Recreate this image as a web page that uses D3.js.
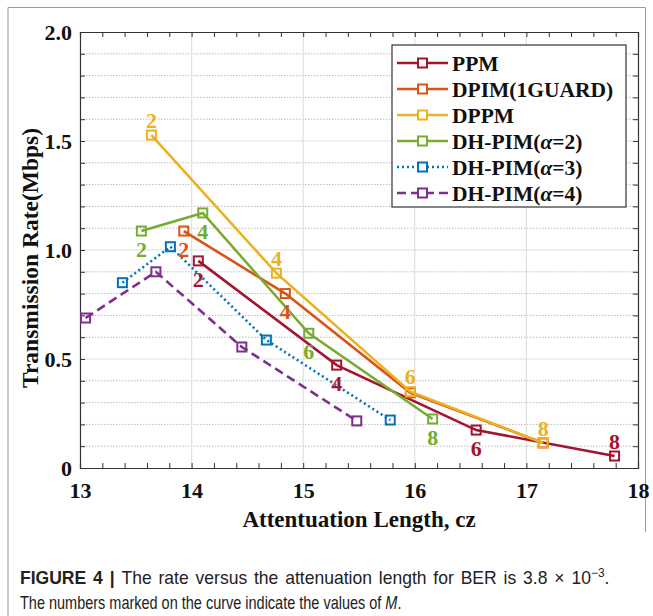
<!DOCTYPE html>
<html><head><meta charset="utf-8">
<script src="https://cdn.jsdelivr.net/npm/d3@7"></script>
<style>body{margin:0;background:#fff;}svg{display:block;}</style>
</head><body>
<svg id="chart" width="653" height="616"></svg>
<script>
// ---- data ----
const seriesNames = ["PPM", "DPIM(1GUARD)", "DPPM", "DH-PIM(\u03b1=2)", "DH-PIM(\u03b1=3)", "DH-PIM(\u03b1=4)"];
const ppmX  = [14.06, 15.30, 16.55, 17.79];
const ppmY  = [0.95, 0.472, 0.174, 0.055];
const dpimX = [13.93, 14.84, 15.96, 17.15];
const dpimY = [1.087, 0.80, 0.345, 0.115];
const dppmX = [13.64, 14.76, 15.96, 17.15];
const dppmY = [1.527, 0.894, 0.35, 0.115];
const dh2X  = [13.55, 14.10, 15.05, 16.16];
const dh2Y  = [1.087, 1.17, 0.618, 0.225];
const dh3X  = [13.38, 13.81, 14.67, 15.78];
const dh3Y  = [0.85, 1.015, 0.587, 0.22];
const dh4X  = [13.05, 13.68, 14.45, 15.48];
const dh4Y  = [0.688, 0.90, 0.555, 0.216];
const mValues = [2, 4, 6, 8];
const xTicks = [13, 14, 15, 16, 17, 18];
const yTicks = [0, 0.5, 1.0, 1.5, 2.0];
const yTickLabels = ["0", "0.5", "1.0", "1.5", "2.0"];

// ---- style ----
const colors = ["#A2142F", "#D95319", "#EDB120", "#77AC30", "#0072BD", "#7E2F8E"];
const dashes = [null, null, null, null, "2,3", "9,5"];
// which M labels are shown per series: "a" above, "b" below, null none
const labelPos = [
  ["b", "b", "b", "a"],
  ["b", "b", null, null],
  ["a", "a", "a", "a"],
  ["b", "b", "b", "b"],
  [null, null, null, null],
  [null, null, null, null]
];
const xsAll = [ppmX, dpimX, dppmX, dh2X, dh3X, dh4X];
const ysAll = [ppmY, dpimY, dppmY, dh2Y, dh3Y, dh4Y];
const series = seriesNames.map((n, i) => ({
  name: n, color: colors[i], dash: dashes[i],
  pts: xsAll[i].map((x, j) => ({x, y: ysAll[i][j], m: mValues[j], lp: labelPos[i][j]}))
}));

const svg = d3.select("#chart");
const L = 80, R = 638, T = 32, B = 468;
const x = d3.scaleLinear().domain([13, 18]).range([L, R]);
const y = d3.scaleLinear().domain([0, 2]).range([B, T]);
const serif = "'Liberation Serif','Times New Roman',serif";

// outer frame
svg.append("path").attr("d", "M8,616 L8,7.5 L645.5,7.5 L645.5,532")
  .attr("fill", "none").attr("stroke", "#9a9a9a").attr("stroke-width", 1);

const g = svg.append("g");
g.selectAll(".hmin").data(d3.range(1, 20).map(d => d / 10).filter(v => Math.abs(v * 2 - Math.round(v * 2)) > 1e-6))
  .join("line").attr("x1", L).attr("x2", R).attr("y1", d => y(d)).attr("y2", d => y(d))
  .attr("stroke", "#bdbdbd").attr("stroke-width", 1).attr("stroke-dasharray", "1.5,1.5");
g.selectAll(".hmaj").data([0.5, 1.0, 1.5]).join("line")
  .attr("x1", L).attr("x2", R).attr("y1", d => y(d)).attr("y2", d => y(d))
  .attr("stroke", "#e0e0e0").attr("stroke-width", 1.2);
g.selectAll(".vmaj").data([14, 15, 16, 17]).join("line")
  .attr("y1", T).attr("y2", B).attr("x1", d => x(d)).attr("x2", d => x(d))
  .attr("stroke", "#e0e0e0").attr("stroke-width", 1.2);

// axes with inward ticks
const xMinor = d3.range(13, 18.001, 0.2);
const yMinor = d3.range(0, 2.001, 0.1);
const axB = d3.axisBottom(x).tickValues(xMinor).tickSize(-5).tickFormat("");
const axT = d3.axisTop(x).tickValues(xMinor).tickSize(-5).tickFormat("");
const axL = d3.axisLeft(y).tickValues(yMinor).tickSize(-5).tickFormat("");
const axR = d3.axisRight(y).tickValues(yMinor).tickSize(-5).tickFormat("");
[[axB, `translate(0,${B})`], [axT, `translate(0,${T})`], [axL, `translate(${L},0)`], [axR, `translate(${R},0)`]]
  .forEach(([ax, tr]) => {
    const a = svg.append("g").attr("transform", tr).call(ax);
    a.selectAll("path").attr("stroke", "#333").attr("stroke-width", 1.2);
    a.selectAll("line").attr("stroke", "#333").attr("stroke-width", 1);
  });

// tick labels
svg.append("g").attr("transform", `translate(0,${B})`)
  .call(d3.axisBottom(x).tickValues(xTicks).tickSize(0).tickPadding(14).tickFormat(d3.format("d")))
  .call(a => a.select(".domain").remove())
  .selectAll("text").attr("font-family", serif).attr("font-weight", "bold")
  .attr("font-size", 22).attr("fill", "#111");
svg.append("g").attr("transform", `translate(${L},0)`)
  .call(d3.axisLeft(y).tickValues(yTicks).tickSize(0).tickPadding(8).tickFormat((d, i) => yTickLabels[i]))
  .call(a => a.select(".domain").remove())
  .selectAll("text").attr("font-family", serif).attr("font-weight", "bold")
  .attr("font-size", 22).attr("fill", "#111");

// axis titles
svg.append("text").attr("x", (L + R) / 2).attr("y", 527).attr("text-anchor", "middle")
  .attr("font-family", serif).attr("font-weight", "bold").attr("font-size", 23).attr("fill", "#111")
  .text("Attentuation Length, cz");
svg.append("text").attr("transform", `translate(38,${(T + B) / 2 + 8}) rotate(-90)`).attr("text-anchor", "middle")
  .attr("font-family", serif).attr("font-weight", "bold").attr("font-size", 23.5).attr("fill", "#111")
  .text("Transmission Rate(Mbps)");

// lines & markers
const line = d3.line().x(d => x(d.x)).y(d => y(d.y));
const sg = svg.append("g");
series.forEach(s => {
  sg.append("path").datum(s.pts).attr("d", line).attr("fill", "none")
    .attr("stroke", s.color).attr("stroke-width", 2.6)
    .attr("stroke-dasharray", s.dash);
  sg.selectAll(null).data(s.pts).join("rect")
    .attr("x", d => x(d.x) - 4.5).attr("y", d => y(d.y) - 4.5).attr("width", 9).attr("height", 9)
    .attr("fill", "none").attr("stroke", s.color).attr("stroke-width", 2);
});
series.forEach(s => {
  sg.selectAll(null).data(s.pts.filter(d => d.lp)).join("text")
    .attr("x", d => x(d.x)).attr("y", d => y(d.y) + (d.lp === "a" ? -15 : 18))
    .attr("dy", "0.35em").attr("text-anchor", "middle")
    .attr("font-family", serif).attr("font-weight", "bold").attr("font-size", 22)
    .attr("fill", s.color).text(d => d.m);
});

// legend
const lg = svg.append("g");
lg.append("rect").attr("x", 392).attr("y", 45).attr("width", 234).attr("height", 162)
  .attr("fill", "#fff").attr("stroke", "#333").attr("stroke-width", 1.2);
series.forEach((s, i) => {
  const yy = 63 + i * 26;
  lg.append("line").attr("x1", 397).attr("x2", 448).attr("y1", yy).attr("y2", yy)
    .attr("stroke", s.color).attr("stroke-width", 2.6).attr("stroke-dasharray", s.dash);
  lg.append("rect").attr("x", 418).attr("y", yy - 4.5).attr("width", 9).attr("height", 9)
    .attr("fill", "#fff").attr("stroke", s.color).attr("stroke-width", 2);
  const t = lg.append("text").attr("x", 452).attr("y", yy).attr("dy", "0.35em")
    .attr("font-family", serif).attr("font-weight", "bold").attr("font-size", 21.5).attr("fill", "#111");
  const m = s.name.match(/^(.*\()\u03b1(=.*)$/);
  if (m) {
    t.append("tspan").text(m[1]);
    t.append("tspan").attr("font-style", "italic").text("\u03b1");
    t.append("tspan").text(m[2]);
  } else t.text(s.name);
});

// caption (condensed by horizontal scale per line)
const cap = svg.append("g").attr("font-family", "'Liberation Sans',Arial,sans-serif")
  .attr("font-size", 17.5).attr("fill", "#222");
const c1 = cap.append("text").attr("word-spacing", 2);
c1.append("tspan").attr("font-weight", "bold").text("FIGURE 4 | ");
c1.append("tspan").text("The rate versus the attenuation length for BER is 3.8 \u00d7 10");
c1.append("tspan").attr("dy", -7).attr("font-size", 12).text("\u22123");
c1.append("tspan").attr("dy", 7).text(".");
const c2 = cap.append("text");
c2.append("tspan").text("The numbers marked on the curve indicate the values of ");
c2.append("tspan").attr("font-style", "italic").text("M");
c2.append("tspan").text(".");
const sc1 = 590 / c1.node().getBBox().width;
const sc2 = 382 / c2.node().getBBox().width;
c1.attr("transform", `translate(20,584) scale(${sc1},1)`);
c2.attr("transform", `translate(20,609) scale(${sc2},1)`);
</script>
</body></html>
